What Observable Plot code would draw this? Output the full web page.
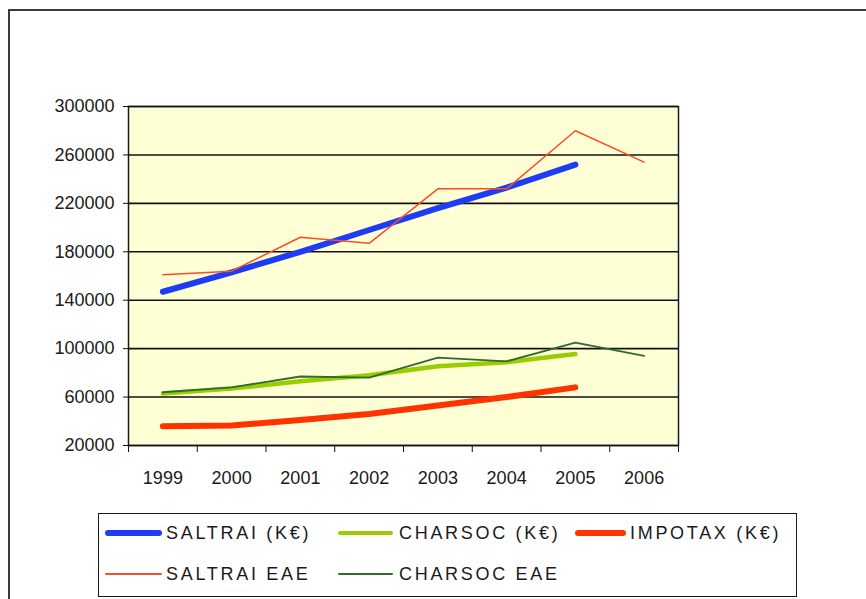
<!DOCTYPE html>
<html>
<head>
<meta charset="utf-8">
<script src="https://cdn.jsdelivr.net/npm/d3@7"></script>
<script src="https://cdn.jsdelivr.net/npm/@observablehq/plot@0.6"></script>
<style>
  html, body { margin: 0; padding: 0; background: #fff; }
  #wrap { position: relative; width: 866px; height: 599px; overflow: hidden; font-family: "Liberation Sans", Arial, sans-serif; }
  #frame { position: absolute; left: 8px; top: 9px; width: 900px; height: 700px; border: 2px solid #3a3a3a; box-sizing: border-box; }
  #chart { position: absolute; left: 0; top: 0; }
  #legend { position: absolute; left: 98px; top: 513px; width: 699px; height: 84px; border: 1.5px solid #1a1a1a; box-sizing: border-box; background: #fff; }
  .item { position: absolute; height: 20px; }
  .swatch { position: absolute; top: 50%; }
  .lab { position: absolute; top: 0; font-size: 18px; line-height: 20px; letter-spacing: 2.7px; color: #1a1a1a; white-space: nowrap; }
</style>
</head>
<body>
<div id="wrap">
  <div id="frame"></div>
  <div id="chart"></div>
  <div id="legend"></div>
</div>
<script>
const years = [1999, 2000, 2001, 2002, 2003, 2004, 2005, 2006];
const seriesNames = ["SALTRAI (K€)", "CHARSOC (K€)", "IMPOTAX (K€)", "SALTRAI EAE", "CHARSOC EAE"];
const saltrai    = [147000, 163000, 180000, 198000, 216000, 233000, 252000, null];
const charsoc    = [63000, 67000, 73000, 78000, 85500, 88800, 95500, null];
const impotax    = [36000, 36500, 41000, 46000, 53000, 60000, 68000, null];
const saltraiEAE = [161000, 164000, 192000, 187000, 232000, 232000, 280000, 254000];
const charsocEAE = [64000, 68000, 77000, 76000, 92500, 89500, 105000, 94000];
const yTicks = [20000, 60000, 100000, 140000, 180000, 220000, 260000, 300000];

const colors = ["#1f3cf5", "#9acd00", "#ff3300", "#ff4a26", "#2f6a2f"];
const widths = [6, 4.5, 6, 1.5, 1.8];
const valuesList = [saltrai, charsoc, impotax, saltraiEAE, charsocEAE];

const rows = [];
valuesList.forEach((vals, i) => {
  vals.forEach((v, j) => { if (v != null) rows.push({series: seriesNames[i], year: years[j], value: v}); });
});

const boundaries = d3.range(years[0] - 0.5, years[years.length - 1] + 1, 1);

const marks = [
  Plot.frame({fill: "#ffffd5", stroke: "#1a1a1a", strokeWidth: 1.5}),
  Plot.gridY(yTicks, {stroke: "#111", strokeOpacity: 1, strokeWidth: 1.6}),
  Plot.axisY({ticks: yTicks, tickSize: 5, tickPadding: 9, tickFormat: d3.format("d"),
    fontSize: 18, label: null, stroke: "#111", fill: "#1a1a1a", letterSpacing: 2.3}),
  Plot.axisX({ticks: boundaries, tickSize: 7, tickFormat: () => "", label: null, stroke: "#111"}),
  Plot.axisX({ticks: years, tickSize: 0, tickPadding: 26, tickFormat: d3.format("d"),
    fontSize: 18, label: null, fill: "#1a1a1a", letterSpacing: 2.3})
];
seriesNames.forEach((name, i) => {
  marks.push(Plot.line(rows.filter(r => r.series === name), {
    x: "year", y: "value", stroke: colors[i], strokeWidth: widths[i],
    strokeLinejoin: "round", strokeLinecap: "round"
  }));
});

const chart = Plot.plot({
  width: 866, height: 500,
  marginLeft: 128, marginRight: 188, marginTop: 106, marginBottom: 55,
  style: {fontFamily: "'Liberation Sans', Arial, sans-serif", background: "transparent", overflow: "visible"},
  x: {domain: [years[0] - 0.5, years[years.length - 1] + 0.5], axis: null},
  y: {domain: [20000, 300000], axis: null},
  marks
});
document.getElementById("chart").appendChild(chart);

// legend
const legend = document.getElementById("legend");
const pos = [
  {x: 6, y: 9, lw: 57, tx: 67},
  {x: 239, y: 9, lw: 55, tx: 300},
  {x: 476, y: 9, lw: 51, tx: 531},
  {x: 6, y: 50, lw: 57, tx: 67},
  {x: 239, y: 50, lw: 55, tx: 300}
];
seriesNames.forEach((name, i) => {
  const p = pos[i];
  const it = document.createElement("div");
  it.className = "item";
  it.style.left = p.x + "px"; it.style.top = p.y + "px";
  const sw = document.createElement("div");
  sw.className = "swatch";
  sw.style.left = "0px";
  sw.style.width = p.lw + "px";
  sw.style.height = Math.max(2, widths[i]) + "px";
  sw.style.marginTop = (-Math.max(2, widths[i]) / 2) + "px";
  sw.style.background = colors[i];
  sw.style.borderRadius = "3px";
  const lb = document.createElement("div");
  lb.className = "lab";
  lb.style.left = (p.tx - p.x) + "px";
  lb.textContent = name;
  it.appendChild(sw); it.appendChild(lb);
  legend.appendChild(it);
});
</script>
</body>
</html>
